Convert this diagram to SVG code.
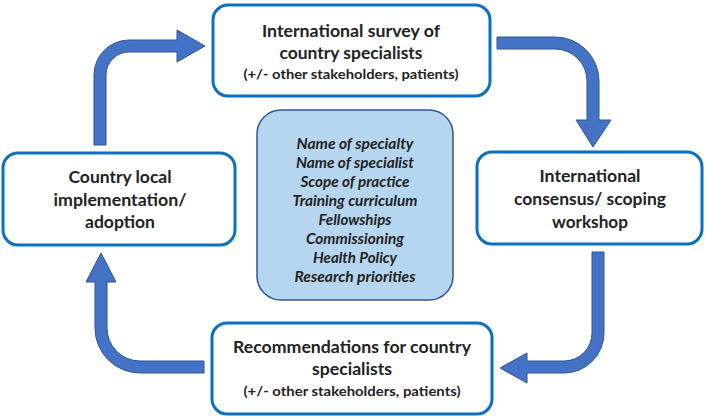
<svg xmlns="http://www.w3.org/2000/svg" width="707" height="419" viewBox="0 0 707 419">
<style>
.box{fill:#ffffff;stroke:#0b70c2;stroke-width:3}
.center{fill:#b6d6ef;stroke:#2f5597;stroke-width:1.5}
.arrow{fill:#4472c4;stroke:#2f5597;stroke-width:1}
.t{font-family:Lato,"Open Sans","Liberation Sans",sans-serif;font-weight:bold;fill:#222222;text-anchor:middle}
.big{font-size:17.5px}
.small{font-size:14px}
.it{font-family:Lato,"Open Sans","Liberation Sans",sans-serif;font-weight:bold;font-style:italic;font-size:15.5px;fill:#222222;text-anchor:middle}
</style>
<rect width="707" height="419" fill="#ffffff"/>
<g id="connectors">
<path class="arrow" d="M94,145 V75 A35 35 0 0 1 129,40 H177 V30 L205,46 L177,62 V52 H129 A23 23 0 0 0 106,75 V145 Z"/>
<path class="arrow" d="M497,37 H555 A44 44 0 0 1 599,81 V120 H611 L593,147 L576,120 H587 V81 A32 32 0 0 0 555,49 H497 Z"/>
<path class="arrow" d="M592,252 H604 V333 A40 40 0 0 1 564,373 H527 V383 L500,368 L527,353 V361 H564 A28 28 0 0 0 592,333 Z"/>
<path class="arrow" d="M204,361 V373 H140 A45 45 0 0 1 95,328 V282 H86 L101,253 L116,282 H107 V328 A33 33 0 0 0 140,361 Z"/>
</g>
<g id="survey">
<rect class="box" x="213" y="5" width="277" height="91" rx="15"/>
<text class="t big" x="351" y="37" textLength="178" lengthAdjust="spacingAndGlyphs">International survey of</text>
<text class="t big" x="351" y="59" textLength="143" lengthAdjust="spacingAndGlyphs">country specialists</text>
<text class="t small" x="351" y="79" textLength="215" lengthAdjust="spacingAndGlyphs">(+/- other stakeholders, patients)</text>
</g>
<g id="consensus">
<rect class="box" x="477" y="152" width="225" height="92" rx="15"/>
<text class="t big" x="590" y="182" textLength="101" lengthAdjust="spacingAndGlyphs">International</text>
<text class="t big" x="590" y="205" textLength="152" lengthAdjust="spacingAndGlyphs">consensus/ scoping</text>
<text class="t big" x="590" y="228" textLength="76" lengthAdjust="spacingAndGlyphs">workshop</text>
</g>
<g id="recommendations">
<rect class="box" x="212" y="323" width="280" height="91" rx="15"/>
<text class="t big" x="352" y="353" textLength="238" lengthAdjust="spacingAndGlyphs">Recommendations for country</text>
<text class="t big" x="352" y="375" textLength="80" lengthAdjust="spacingAndGlyphs">specialists</text>
<text class="t small" x="352" y="396" textLength="217" lengthAdjust="spacingAndGlyphs">(+/- other stakeholders, patients)</text>
</g>
<g id="local">
<rect class="box" x="3" y="153" width="232" height="92" rx="15"/>
<text class="t big" x="120" y="183" textLength="103" lengthAdjust="spacingAndGlyphs">Country local</text>
<text class="t big" x="120" y="206" textLength="133" lengthAdjust="spacingAndGlyphs">implementation/</text>
<text class="t big" x="120" y="228" textLength="70" lengthAdjust="spacingAndGlyphs">adoption</text>
</g>
<g id="topics">
<rect class="center" x="257" y="110" width="196" height="190" rx="24"/>
<text class="it" x="355" y="149" textLength="117" lengthAdjust="spacingAndGlyphs">Name of specialty</text>
<text class="it" x="355" y="168" textLength="118" lengthAdjust="spacingAndGlyphs">Name of specialist</text>
<text class="it" x="355" y="187" textLength="109" lengthAdjust="spacingAndGlyphs">Scope of practice</text>
<text class="it" x="355" y="206" textLength="125" lengthAdjust="spacingAndGlyphs">Training curriculum</text>
<text class="it" x="355" y="225" textLength="73" lengthAdjust="spacingAndGlyphs">Fellowships</text>
<text class="it" x="355" y="244" textLength="98" lengthAdjust="spacingAndGlyphs">Commissioning</text>
<text class="it" x="355" y="263" textLength="84" lengthAdjust="spacingAndGlyphs">Health Policy</text>
<text class="it" x="355" y="282" textLength="121" lengthAdjust="spacingAndGlyphs">Research priorities</text>
</g>
</svg>
